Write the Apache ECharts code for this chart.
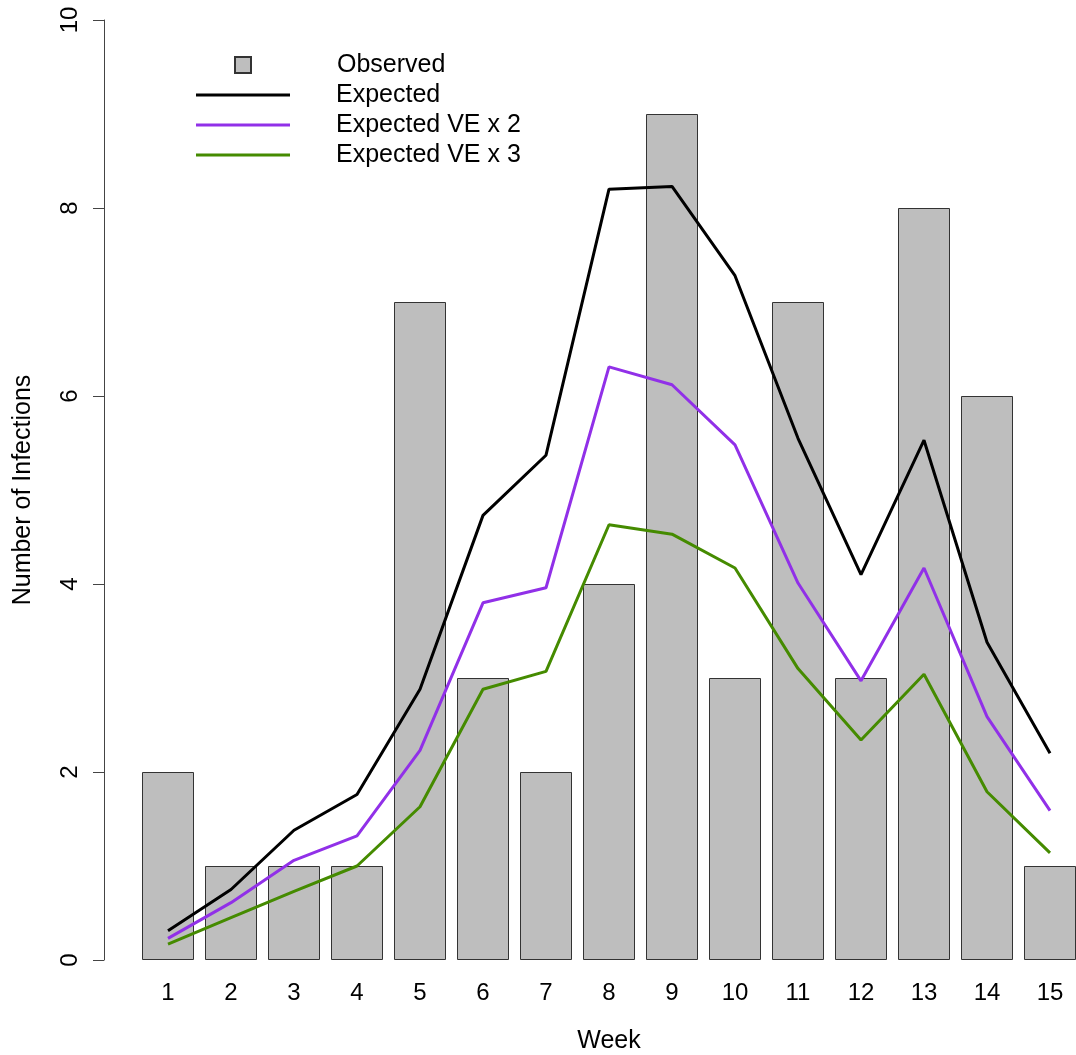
<!DOCTYPE html>
<html>
<head>
<meta charset="utf-8">
<title>Infections by week</title>
<script src="https://cdn.jsdelivr.net/npm/echarts@6/dist/echarts.min.js"></script>
<style>
  html, body { margin: 0; padding: 0; background: #fff; }
  #main { width: 1076px; height: 1055px; }
</style>
</head>
<body>
<div id="main"></div>
<script>
// weeks and values
var weeks = ['1','2','3','4','5','6','7','8','9','10','11','12','13','14','15'];
var observed = [2, 1, 1, 1, 7, 3, 2, 4, 9, 3, 7, 3, 8, 6, 1];
var expected = [0.31, 0.75, 1.38, 1.76, 2.88, 4.73, 5.37, 8.20, 8.23, 7.28, 5.55, 4.10, 5.53, 3.38, 2.20];
var expectedVE2 = [0.23, 0.61, 1.06, 1.32, 2.23, 3.80, 3.96, 6.31, 6.12, 5.48, 4.01, 2.97, 4.17, 2.59, 1.59];
var expectedVE3 = [0.17, 0.45, 0.73, 1.00, 1.63, 2.88, 3.07, 4.63, 4.53, 4.17, 3.10, 2.34, 3.04, 1.79, 1.14];
var yTicks = [0, 2, 4, 6, 8, 10];

var font = '"Liberation Sans", Arial, sans-serif';
var chart = echarts.init(document.getElementById('main'));

function lineSeries(name, data, color) {
    return {
        name: name,
        type: 'line',
        data: data,
        symbol: 'none',
        z: 5,
        lineStyle: { color: color, width: 3 },
        itemStyle: { color: color },
        emphasis: { disabled: true }
    };
}

chart.setOption({
    animation: false,
    textStyle: { fontFamily: font, color: '#000' },
    grid: {
        left: 136.5,
        top: 20,
        width: 945,
        bottom: 95,
        outerBoundsMode: 'none',
        containLabel: false
    },
    legend: [
        {
            data: ['Observed'],
            left: 234,
            top: 50,
            padding: 0,
            itemWidth: 16,
            itemHeight: 16,
            icon: 'rect',
            selectedMode: false,
            textStyle: { fontFamily: font, fontSize: 25, color: '#000', lineHeight: 30, padding: [0, 0, 0, 81] }
        },
        {
            data: ['Expected', 'Expected VE x 2', 'Expected VE x 3'],
            orient: 'vertical',
            left: 196,
            top: 80,
            padding: 0,
            itemGap: 0,
            itemWidth: 94,
            itemHeight: 3,
            icon: 'rect',
            selectedMode: false,
            textStyle: { fontFamily: font, fontSize: 25, color: '#000', lineHeight: 30, padding: [0, 0, 0, 41] }
        }
    ],
    xAxis: {
        type: 'category',
        data: weeks,
        name: 'Week',
        nameLocation: 'middle',
        nameGap: 69,
        nameTextStyle: { fontFamily: font, fontSize: 25, color: '#000' },
        axisLine: { show: false },
        axisTick: { show: false },
        axisLabel: { fontFamily: font, fontSize: 24, color: '#000', margin: 21, interval: 0 }
    },
    yAxis: {
        type: 'value',
        min: 0,
        max: 10,
        interval: 2,
        offset: 32.5,
        name: 'Number of Infections',
        nameLocation: 'middle',
        nameGap: 68,
        nameTextStyle: { fontFamily: font, fontSize: 25, color: '#000' },
        splitLine: { show: false },
        axisLine: { show: true, lineStyle: { color: '#444', width: 1 } },
        axisTick: { show: true, length: 11, lineStyle: { color: '#444', width: 1 } },
        axisLabel: {
            fontFamily: font, fontSize: 24, color: '#000', margin: 22, rotate: 90,
            formatter: function (v) { return yTicks.indexOf(v) >= 0 ? String(v) : ''; }
        }
    },
    series: [
        {
            name: 'Observed',
            type: 'bar',
            data: observed,
            barWidth: 52,
            z: 2,
            itemStyle: { color: '#BEBEBE', borderColor: '#333', borderWidth: 1 },
            emphasis: { disabled: true }
        },
        lineSeries('Expected', expected, '#000000'),
        lineSeries('Expected VE x 2', expectedVE2, '#9130E8'),
        lineSeries('Expected VE x 3', expectedVE3, '#458B00')
    ]
});
</script>
</body>
</html>
